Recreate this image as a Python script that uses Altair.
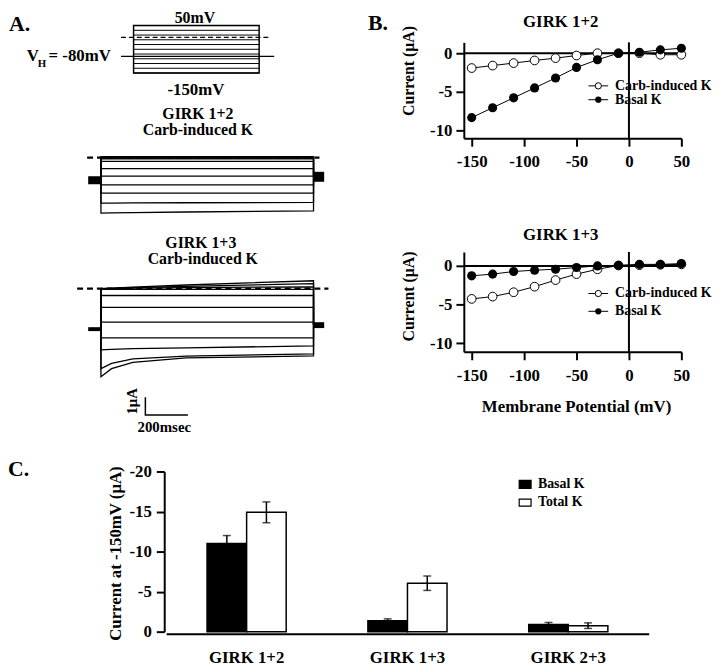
import altair as alt
import pandas as pd

# ---------------- Panel A: voltage protocol (mV, ms) ----------------
STEP_MV = [-150, -130, -110, -90, -70, -50, -30, -10, 10, 30, 50]
PULSE_MS = [0, 1000]
HOLD_MV = -80
HOLD_SPAN_MS = [-100, 1120]
ZERO_SPAN_MS = [-100, 1080]

# ---------------- Panel A: current traces (uA) ----------------
TRACE_MV = [50, 30, 10, -10, -30, -50, -70, -90, -110, -130, -150]
SAMPLE_MS = [0, 50, 150, 400, 1000]
G12_TRACES = [
    [0.05, 0.05, 0.05, 0.05, 0.05],
    [0.00, 0.00, 0.00, 0.00, 0.00],
    [-0.03, -0.03, -0.03, -0.03, -0.03],
    [-0.07, -0.07, -0.07, -0.07, -0.07],
    [-0.21, -0.21, -0.21, -0.21, -0.21],
    [-0.62, -0.62, -0.62, -0.62, -0.62],
    [-1.04, -1.04, -1.04, -1.04, -1.04],
    [-1.54, -1.54, -1.54, -1.54, -1.54],
    [-2.00, -2.00, -2.00, -2.00, -2.00],
    [-2.56, -2.56, -2.55, -2.54, -2.52],
    [-3.12, -3.11, -3.09, -3.06, -3.00],
]
G12_HOLD = [-1.05, -1.50]
G12_TAIL = [-0.80, -1.36]
G12_ZERO_SPAN = [-65, 1028]
G13_TRACES = [
    [0.00, 0.02, 0.08, 0.20, 0.44],
    [0.00, 0.01, 0.05, 0.12, 0.28],
    [0.00, 0.00, 0.02, 0.05, 0.10],
    [-0.05, -0.05, -0.05, -0.05, -0.05],
    [-0.39, -0.39, -0.39, -0.39, -0.39],
    [-1.06, -1.06, -1.06, -1.06, -1.06],
    [-1.89, -1.89, -1.89, -1.89, -1.89],
    [-2.77, -2.77, -2.77, -2.77, -2.77],
    [-3.44, -3.42, -3.38, -3.33, -3.22],
    [-4.50, -4.20, -3.95, -3.80, -3.67],
    [-4.95, -4.50, -4.15, -3.90, -3.78],
]
G13_HOLD = [-2.17, -2.39]
G13_TAIL = [-1.89, -2.22]
G13_ZERO_SPAN = [-112, 1070]
HOLD_MS = [-60, 0]
TAIL_MS = [1000, 1050]
SCALE_BAR_MS = 200
SCALE_BAR_UA = 1

# ---------------- Panel B: I-V relations (uA vs mV) ----------------
IV_MV = [-150, -130, -110, -90, -70, -50, -30, -10, 10, 30, 50]
G12_CARB = [-1.92, -1.60, -1.28, -0.94, -0.64, -0.30, 0.00, 0.00, 0.00, -0.20, -0.20]
G12_BASAL = [-8.33, -7.05, -5.77, -4.49, -3.20, -1.84, -0.85, 0.00, 0.13, 0.43, 0.64]
G13_CARB = [-4.26, -3.96, -3.40, -2.68, -1.83, -1.06, -0.43, 0.05, 0.10, 0.15, 0.20]
G13_BASAL = [-1.28, -1.06, -0.72, -0.55, -0.43, -0.21, 0.00, 0.08, 0.20, 0.20, 0.30]

# ---------------- Panel C: current at -150 mV ----------------
GROUPS = ["GIRK 1+2", "GIRK 1+3", "GIRK 2+3"]
SERIES = ["Basal K", "Total K"]
BASAL_MEAN = [-11.0, -1.35, -0.90]
BASAL_SEM = [1.0, 0.25, 0.25]
TOTAL_MEAN = [-14.9, -6.05, -0.75]
TOTAL_SEM = [1.3, 0.9, 0.35]

# ---------------- layout helpers ----------------
SERIF = "Liberation Serif"
W, H = 712, 661
ONE = alt.Data(values=[{}])


def cx(x):
    return x - 8


def cy(y):
    return y - 8


def lin(domain, r0, r1):
    return alt.Scale(domain=domain, range=[r0, r1], nice=False, zero=False)


def axis(orient, offset, size, pad, values=None, ticks=True, tick=8):
    kw = dict(orient=orient, offset=offset, title=None, grid=False, labelAngle=0,
              domainColor="black", domainWidth=2, tickColor="black", tickWidth=2,
              tickSize=tick, ticks=ticks, labelFont=SERIF, labelFontWeight="bold",
              labelFontSize=size, labelColor="black", labelPadding=pad,
              labelFlush=False, labelOverlap=False, labelExpr="'' + datum.value")
    if values is not None:
        kw["values"] = values
    return alt.Axis(**kw)


def label(text, x, y, size, align="center", angle=0):
    return alt.Chart(ONE).mark_text(
        font=SERIF, fontWeight="bold", fontSize=size, align=align,
        baseline="middle", angle=angle, color="black"
    ).encode(x=alt.value(cx(x)), y=alt.value(cy(y)), text=alt.value(text))


def hline(x1, x2, y, width=1):
    return alt.Chart(ONE).mark_rule(color="black", strokeWidth=width).encode(
        x=alt.value(cx(x1)), x2=alt.value(cx(x2)), y=alt.value(cy(y)))


def dot(x, y, filled, size=40):
    if filled:
        m = alt.Chart(ONE).mark_circle(size=size, color="black", opacity=1)
    else:
        m = alt.Chart(ONE).mark_circle(size=size, fill="white", stroke="black",
                                       strokeWidth=1, opacity=1)
    return m.encode(x=alt.value(cx(x)), y=alt.value(cy(y)))


def box(x1, x2, y1, y2, fill):
    return alt.Chart(ONE).mark_rect(fill=fill, stroke="black", strokeWidth=1.2).encode(
        x=alt.value(cx(x1)), x2=alt.value(cx(x2)), y=alt.value(cy(y1)), y2=alt.value(cy(y2)))


layers = []

# ================= Panel A: protocol =================
px = lin([0, 1000], cx(135), cx(262))
py = lin([-150, 50], cy(70), cy(22))
steps_df = pd.DataFrame({"mV": STEP_MV, "t0": PULSE_MS[0], "t1": PULSE_MS[1]})
proto_box_df = pd.DataFrame({"t0": [PULSE_MS[0]], "t1": [PULSE_MS[1]],
                             "v0": [STEP_MV[0]], "v1": [STEP_MV[-1]]})
hold_df = pd.DataFrame({"mV": [HOLD_MV], "t0": [HOLD_SPAN_MS[0]], "t1": [HOLD_SPAN_MS[1]]})
zero_df = pd.DataFrame({"mV": [0], "t0": [ZERO_SPAN_MS[0]], "t1": [ZERO_SPAN_MS[1]]})
protocol = alt.layer(
    alt.Chart(steps_df).mark_rule(color="black", strokeWidth=1).encode(
        x=alt.X("t0:Q", scale=px, axis=None), x2="t1:Q",
        y=alt.Y("mV:Q", scale=py, axis=None)),
    alt.Chart(proto_box_df).mark_rect(fill="transparent", stroke="black", strokeWidth=1.5).encode(
        x=alt.X("t0:Q", scale=px, axis=None), x2="t1:Q",
        y=alt.Y("v0:Q", scale=py, axis=None), y2="v1:Q"),
    alt.Chart(hold_df).mark_rule(color="black", strokeWidth=1.3).encode(
        x=alt.X("t0:Q", scale=px, axis=None), x2="t1:Q",
        y=alt.Y("mV:Q", scale=py, axis=None)),
    alt.Chart(zero_df).mark_rule(color="black", strokeWidth=1.3, strokeDash=[5, 3]).encode(
        x=alt.X("t0:Q", scale=px, axis=None), x2="t1:Q",
        y=alt.Y("mV:Q", scale=py, axis=None)),
)
layers.append(protocol)


# ================= Panel A: traces =================
def trace_frame(traces, hold, tail):
    rows = []
    hold_mid = (hold[0] + hold[1]) / 2
    tail_mid = (tail[0] + tail[1]) / 2
    for mv, vals in zip(TRACE_MV, traces):
        pts = [(PULSE_MS[0], hold_mid)] + list(zip(SAMPLE_MS, vals)) + [(PULSE_MS[1], tail_mid)]
        for i, (t, v) in enumerate(pts):
            rows.append({"trace": mv, "order": i, "t": t, "I": v})
    return pd.DataFrame(rows)


def trace_panel(traces, hold, tail, zspan, ys, bar=None):
    tx = lin([0, 1000], cx(102), cx(317))
    X = alt.X("t:Q", scale=tx, axis=None)
    Y = alt.Y("I:Q", scale=ys, axis=None)
    tdf = trace_frame(traces, hold, tail)
    blocks = pd.DataFrame({"t": [HOLD_MS[0], TAIL_MS[0]], "t2": [HOLD_MS[1], TAIL_MS[1]],
                           "I": [hold[0], tail[0]], "I2": [hold[1], tail[1]]})
    zdf = pd.DataFrame({"t": [zspan[0]], "t2": [zspan[1]], "I": [0]})
    parts = [
        alt.Chart(tdf).mark_line(color="black", strokeWidth=1.3).encode(
            x=X, y=Y, detail="trace:N", order=alt.Order("order:Q")),
        alt.Chart(blocks).mark_rect(color="black").encode(x=X, x2="t2:Q", y=Y, y2="I2:Q"),
        alt.Chart(zdf).mark_rule(color="black", strokeWidth=2.2, strokeDash=[6, 4]).encode(
            x=X, x2="t2:Q", y=Y),
    ]
    if bar is not None:
        t0, i0 = bar
        bdf = pd.DataFrame({"t": [t0, t0, t0 + SCALE_BAR_MS],
                            "I": [i0, i0 - SCALE_BAR_UA, i0 - SCALE_BAR_UA],
                            "order": [0, 1, 2]})
        parts.append(alt.Chart(bdf).mark_line(color="black", strokeWidth=1.5).encode(
            x=X, y=Y, order=alt.Order("order:Q")))
    return alt.layer(*parts)


layers.append(trace_panel(G12_TRACES, G12_HOLD, G12_TAIL, G12_ZERO_SPAN,
                          lin([-5, 1], cy(245.5), cy(137.5))))
layers.append(trace_panel(G13_TRACES, G13_HOLD, G13_TAIL, G13_ZERO_SPAN,
                          lin([-8, 1], cy(432), cy(270)), bar=(209, -6.1)))


# ================= Panel B: I-V plots =================
def iv_panel(carb, basal, ydom, ybot, ytop):
    xs = lin([-157.5, 50], cx(469), cx(689))
    ys = lin(ydom, cy(ybot), cy(ytop))
    xa = axis("bottom", cy(ybot) - H, 17, 8, values=[-150, -100, -50, 0, 50])
    ya = axis("left", -cx(469), 17, 4, values=[0, -5, -10])
    df = pd.DataFrame({"mV": IV_MV + IV_MV, "I": carb + basal,
                       "series": ["Carb-induced K"] * len(IV_MV) + ["Basal K"] * len(IV_MV)})
    X = alt.X("mV:Q", scale=xs, axis=xa)
    Y = alt.Y("I:Q", scale=ys, axis=ya)
    base = alt.Chart(df)
    return alt.layer(
        base.mark_line(color="black", strokeWidth=1).encode(x=X, y=Y, detail="series:N"),
        alt.Chart(ONE).mark_rule(color="black", strokeWidth=2).encode(
            x=alt.XDatum(-157.5, scale=xs, axis=xa), x2=alt.X2Datum(50),
            y=alt.YDatum(0, scale=ys, axis=ya)),
        alt.Chart(ONE).mark_rule(color="black", strokeWidth=2).encode(
            x=alt.XDatum(0, scale=xs, axis=xa),
            y=alt.YDatum(ydom[0], scale=ys, axis=ya), y2=alt.Y2Datum(ydom[1])),
        base.transform_filter(alt.datum.series == "Carb-induced K").mark_circle(
            size=78, fill="white", stroke="black", strokeWidth=1, opacity=1).encode(x=X, y=Y),
        base.transform_filter(alt.datum.series == "Basal K").mark_circle(
            size=85, color="black", opacity=1).encode(x=X, y=Y),
    )


layers.append(iv_panel(G12_CARB, G12_BASAL, [-11.0, 1.4], 136, 39))
layers.append(iv_panel(G13_CARB, G13_BASAL, [-11.1, 1.8], 352, 251))

# ================= Panel C: bars =================
bars_df = pd.DataFrame({
    "group": GROUPS + GROUPS,
    "series": [SERIES[0]] * 3 + [SERIES[1]] * 3,
    "mean": BASAL_MEAN + TOTAL_MEAN,
    "sem": BASAL_SEM + TOTAL_SEM,
})
bars_df["base"] = 0.0
bars_df["lo"] = bars_df["mean"] + bars_df["sem"]
bars_df["hi"] = bars_df["mean"] - bars_df["sem"]

cxs = alt.Scale(domain=GROUPS, range=[cx(168), cx(656)], paddingInner=0.508, paddingOuter=0.254)
cys = lin([0, -20], cy(635), cy(473))
offs = alt.Scale(domain=SERIES, paddingInner=0, paddingOuter=0)
cxa = axis("bottom", cy(637) - H, 17, 16, ticks=False, tick=0)
cya = axis("left", -cx(166), 17, 5, values=[0, -5, -10, -15, -20])
CX = alt.X("group:N", scale=cxs, sort=GROUPS, axis=cxa)
OFF = alt.XOffset("series:N", scale=offs, sort=SERIES)
cbase = alt.Chart(bars_df)
bars = alt.layer(
    cbase.mark_bar(stroke="black", strokeWidth=1.5).encode(
        x=CX, xOffset=OFF, y=alt.Y("mean:Q", scale=cys, axis=cya), y2="base:Q",
        color=alt.Color("series:N", scale=alt.Scale(domain=SERIES, range=["black", "white"]),
                        legend=None)),
    cbase.mark_rule(color="black", strokeWidth=1.5).encode(
        x=CX, xOffset=OFF, y=alt.Y("lo:Q", scale=cys, axis=cya), y2="hi:Q"),
    cbase.mark_tick(color="black", size=8, thickness=1.5).encode(
        x=CX, xOffset=OFF, y=alt.Y("hi:Q", scale=cys, axis=cya)),
    cbase.mark_tick(color="black", size=8, thickness=1.5).encode(
        x=CX, xOffset=OFF, y=alt.Y("lo:Q", scale=cys, axis=cya)),
)
layers.append(bars)

# ================= texts & manual legends =================
layers += [
    # Panel A
    label("A.", 9, 21, 22, align="left"),
    label("50mV", 197, 14, 16),
    label("-150mV", 198, 87, 17),
    label("V", 27, 53, 17, align="left"),
    label("H", 38, 61, 11, align="left"),
    label("= -80mV", 112, 53, 17, align="right"),
    label("GIRK 1+2", 200, 112, 16),
    label("Carb-induced K", 200, 128, 16),
    label("GIRK 1+3", 203, 242, 16),
    label("Carb-induced K", 205, 258, 16),
    label("1\u03bcA", 133, 402, 15, angle=270),
    label("200msec", 139, 428, 15, align="left"),
    # Panel B
    label("B.", 372, 19, 22, align="left"),
    label("GIRK 1+2", 567, 18, 17),
    label("Current (\u03bcA)", 414, 68, 16, angle=270),
    hline(595, 615, 83), dot(605, 83, False), label("Carb-induced K", 622, 83, 14, align="left"),
    hline(595, 615, 97), dot(605, 97, True), label("Basal K", 622, 97, 14, align="left"),
    label("GIRK 1+3", 567, 234, 17),
    label("Current (\u03bcA)", 414, 296, 16, angle=270),
    hline(595, 615, 293), dot(605, 293, False), label("Carb-induced K", 622, 293, 14, align="left"),
    hline(595, 615, 311), dot(605, 311, True), label("Basal K", 622, 311, 14, align="left"),
    label("Membrane Potential (mV)", 583, 408, 17),
    # Panel C
    label("C.", 8, 471, 22, align="left"),
    label("Current at -150mV (\u03bcA)", 117, 556, 17, angle=270),
    box(525, 537, 482, 490, "black"), label("Basal K", 544, 486, 14, align="left"),
    box(525, 537, 501, 508, "white"), label("Total K", 544, 504, 14, align="left"),
]

chart = alt.layer(*layers).resolve_scale(
    x="independent", y="independent", xOffset="independent", color="independent"
).properties(
    width=W, height=H, padding=0, autosize=alt.AutoSizeParams(type="none"),
    background="white"
).configure_view(stroke=None)

chart.save("out.html", embed_options={"renderer": "svg", "actions": False})
